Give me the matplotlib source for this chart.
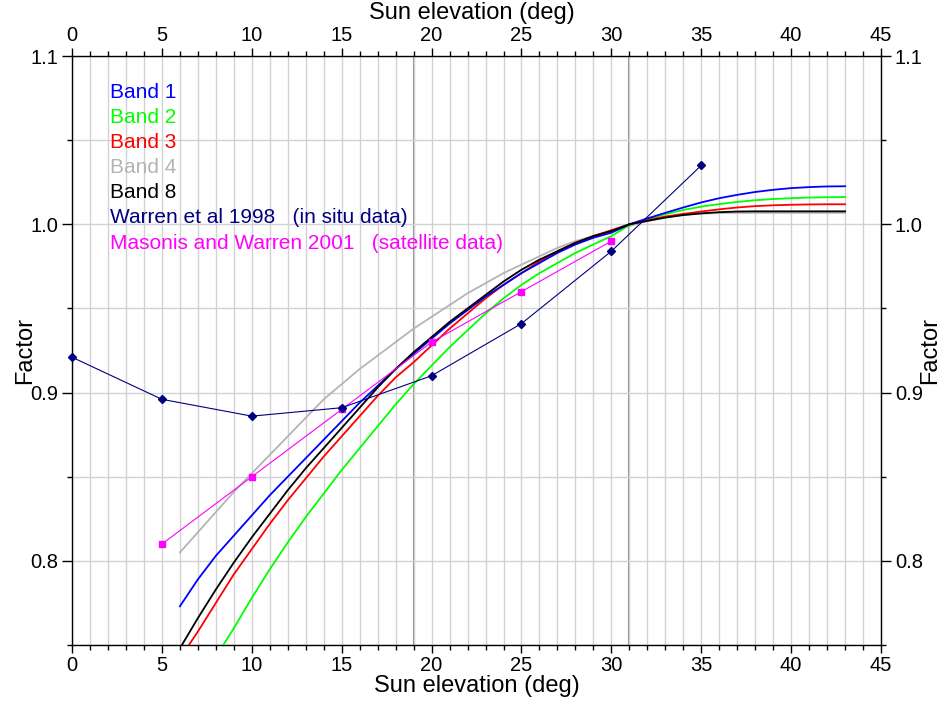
import matplotlib
matplotlib.use("Agg")
import matplotlib.pyplot as plt
from matplotlib.ticker import MultipleLocator

plt.rcParams['font.family'] = ['Liberation Sans', 'DejaVu Sans']

# Sun elevation (deg) for the band curves
elev = list(range(6, 44))

band1 = [0.773, 0.789, 0.803, 0.815, 0.827, 0.839, 0.850, 0.861, 0.872, 0.883,
         0.894, 0.904, 0.914, 0.923, 0.932, 0.941, 0.949, 0.957, 0.964, 0.971,
         0.977, 0.983, 0.988, 0.992, 0.995, 1.000, 1.0035, 1.0068, 1.0100, 1.0130,
         1.0155, 1.0175, 1.0192, 1.0205, 1.0215, 1.0221, 1.0225, 1.0226]
band2 = [0.707, 0.725, 0.743, 0.760, 0.778, 0.795, 0.811, 0.826, 0.840, 0.854,
         0.867, 0.880, 0.893, 0.905, 0.916, 0.927, 0.937, 0.947, 0.956, 0.964,
         0.971, 0.977, 0.983, 0.988, 0.993, 0.9995, 1.003, 1.006, 1.0085, 1.0105,
         1.0120, 1.0133, 1.0143, 1.0150, 1.0155, 1.0159, 1.0161, 1.0162]
band3 = [0.742, 0.758, 0.775, 0.792, 0.807, 0.822, 0.836, 0.849, 0.862, 0.874,
         0.886, 0.898, 0.909, 0.918, 0.928, 0.938, 0.947, 0.956, 0.964, 0.971,
         0.978, 0.984, 0.989, 0.993, 0.9965, 1.000, 1.0025, 1.0046, 1.0062, 1.0076,
         1.0089, 1.0100, 1.0108, 1.0113, 1.0116, 1.0118, 1.0119, 1.0119]
band4 = [0.805, 0.817, 0.829, 0.841, 0.852, 0.863, 0.874, 0.885, 0.896, 0.905,
         0.914, 0.922, 0.930, 0.938, 0.945, 0.952, 0.959, 0.965, 0.971, 0.976,
         0.981, 0.986, 0.990, 0.993, 0.996, 0.999, 1.002, 1.004, 1.0055, 1.0063,
         1.0067, 1.0068, 1.0068, 1.0068, 1.0068, 1.0068, 1.0068, 1.0068]
band8 = [0.748, 0.766, 0.783, 0.799, 0.814, 0.828, 0.842, 0.855, 0.867, 0.879,
         0.891, 0.903, 0.914, 0.924, 0.933, 0.942, 0.950, 0.958, 0.966, 0.973,
         0.979, 0.984, 0.989, 0.993, 0.996, 1.000, 1.002, 1.004, 1.0055, 1.0065,
         1.0072, 1.0076, 1.0077, 1.0077, 1.0077, 1.0077, 1.0077, 1.0077]

warren_x = [0, 5, 10, 15, 20, 25, 30, 35]
warren_y = [0.921, 0.896, 0.886, 0.891, 0.910, 0.941, 0.984, 1.035]

masonis_x = [5, 10, 15, 20, 25, 30]
masonis_y = [0.810, 0.850, 0.890, 0.930, 0.960, 0.990]

legend_labels = ['Band 1', 'Band 2', 'Band 3', 'Band 4', 'Band 8',
                 'Warren et al 1998   (in situ data)',
                 'Masonis and Warren 2001   (satellite data)']
legend_colors = ['#0000ff', '#00ff00', '#ff0000', '#b4b4b4', '#000000',
                 '#000080', '#ff00ff']

fig = plt.figure(figsize=(9.43, 7.02), dpi=100)
ax = fig.add_axes([0.0764, 0.0812, 0.8579, 0.839])

ax.set_xlim(0, 45)
ax.set_ylim(0.75, 1.1)

# grid
ax.xaxis.set_major_locator(MultipleLocator(5))
ax.xaxis.set_minor_locator(MultipleLocator(1))
ax.yaxis.set_major_locator(MultipleLocator(0.1))
ax.yaxis.set_minor_locator(MultipleLocator(0.05))
ax.grid(True, which='both', color='#d2d2d2', lw=1.0, zorder=0)
ax.axvline(19, color='#8c8c8c', lw=1.5, zorder=1)
ax.axvline(31, color='#8c8c8c', lw=1.5, zorder=1)

lw = 1.3
ax.plot(elev, band4, color=legend_colors[3], lw=lw, zorder=2)
ax.plot(elev, band2, color=legend_colors[1], lw=lw, zorder=3)
ax.plot(elev, band3, color=legend_colors[2], lw=lw, zorder=3)
ax.plot(elev, band1, color=legend_colors[0], lw=lw, zorder=3)
ax.plot(elev, band8, color=legend_colors[4], lw=lw, zorder=4)
ax.plot(masonis_x, masonis_y, color='#ff00ff', lw=0.8, marker='s', ms=4.5,
        zorder=5)
ax.plot(warren_x, warren_y, color='#000080', lw=0.8, marker='D', ms=3.8,
        zorder=5, clip_on=False)

# text legend
for i, (lab, col) in enumerate(zip(legend_labels, legend_colors)):
    ax.text(2.1, 1.0785 - i * 0.01495, lab, color=col, fontsize=15,
            va='center', ha='left', zorder=6)

ax.tick_params(which='both', direction='out', top=True, right=True,
               labeltop=True, labelright=True, labelsize=14.5, width=1,
               color='black')
ax.tick_params(which='major', length=6, pad=2)
ax.tick_params(which='minor', length=3.5)
ax.tick_params(axis='y', which='major', length=7, pad=3)
ax.yaxis.set_major_formatter(plt.FuncFormatter(lambda v, p: f'{v:.1f}'))

for s in ax.spines.values():
    s.set_color('black')
    s.set_linewidth(1)

ax.set_xlabel('Sun elevation (deg)', fontsize=17, labelpad=0)
fig.text(0.027, 0.5, 'Factor', fontsize=17, rotation=90, ha='center',
         va='center')
fig.text(0.5, 0.982, 'Sun elevation (deg)', fontsize=17, ha='center',
         va='center')
fig.text(0.986, 0.5, 'Factor', fontsize=17, rotation=90, ha='center',
         va='center')

fig.savefig('out.png', dpi=100)
